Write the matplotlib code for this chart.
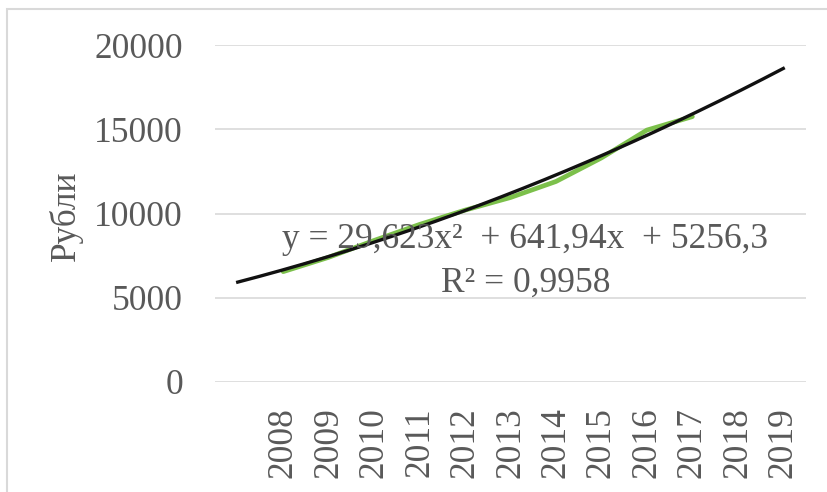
import matplotlib
matplotlib.use("Agg")
import matplotlib.pyplot as plt
from matplotlib.patches import Rectangle
import numpy as np

categories = ["", "2008", "2009", "2010", "2011", "2012", "2013", "2014",
              "2015", "2016", "2017", "2018", "2019"]
data_years = ["2008", "2009", "2010", "2011", "2012", "2013", "2014",
              "2015", "2016", "2017"]
values = [6550, 7400, 8400, 9350, 10200, 10950, 11900, 13300, 14950, 15750]
trend_coef = [29.623, 641.94, 5256.3]
y_ticks = [0, 5000, 10000, 15000, 20000]

W, H = 827, 492
fig = plt.figure(figsize=(W / 100, H / 100), dpi=100)
plt.rcParams['font.family'] = ['Liberation Serif', 'DejaVu Serif']
gray = '#595959'
FS = 25.5

# chart border
fig.patches.append(Rectangle((7 / W, -0.1), 2, (H - 9) / H + 0.1,
                             transform=fig.transFigure, fill=False,
                             edgecolor='#d9d9d9', linewidth=1.5))

ax = fig.add_axes([215 / W, (H - 382) / H, (806 - 215) / W, (382 - 45) / H])
pos = {c: i for i, c in enumerate(categories)}

xd = [pos[y] for y in data_years]
ax.plot(xd, values, color='#7cc04b', linewidth=3.4, solid_capstyle='round', zorder=2)

# trendline: Excel x = 1..N over categories
xt = np.linspace(1, len(categories), 300)
yt = np.polyval(trend_coef, xt)
ax.plot(xt - 1, yt, color='#111111', linewidth=2.4, zorder=3)

ax.set_xlim(-0.5, len(categories) - 0.5)
ax.set_ylim(0, 20000)
ax.set_yticks(y_ticks)
ax.set_yticklabels([str(v) for v in y_ticks], fontsize=FS, color=gray)
ax.set_xticks(range(len(categories)))
ax.set_xticklabels(categories, rotation=90, fontsize=FS, color=gray)
ax.tick_params(axis='both', length=0)
ax.tick_params(axis='y', pad=23)
ax.tick_params(axis='x', pad=18)
ax.grid(axis='y', color='#d9d9d9', linewidth=1.2)
ax.set_axisbelow(True)
for s in ax.spines.values():
    s.set_visible(False)

fig.text(66 / W, 1 - 216 / H, "Рубли", rotation=90, ha='center', va='center',
         fontsize=FS, color=gray)

fig.text(525 / W, 1 - 240 / H, "y = 29,623x²  + 641,94x  + 5256,3",
         ha='center', va='center', fontsize=FS, color=gray)
fig.text(526 / W, 1 - 283 / H, "R² = 0,9958",
         ha='center', va='center', fontsize=FS, color=gray)

fig.savefig("out.png", dpi=100, facecolor='white')
